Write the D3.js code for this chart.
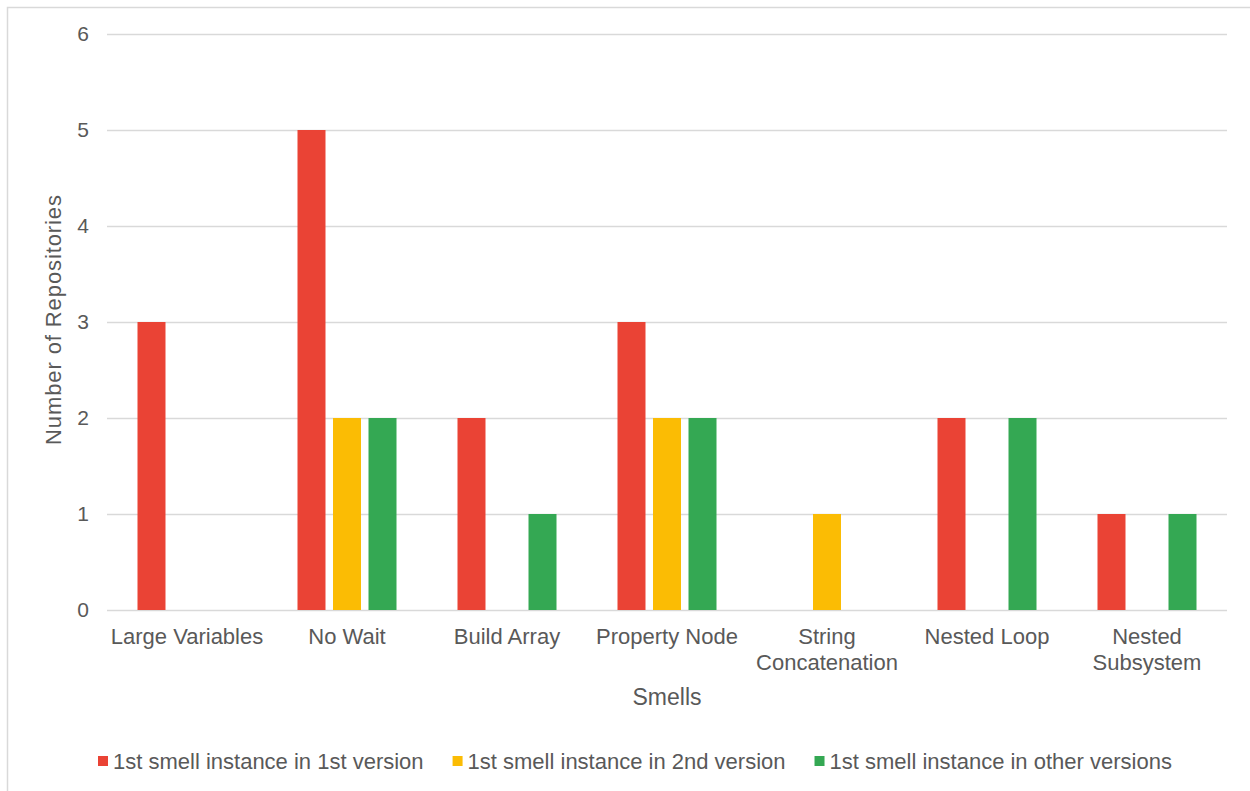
<!DOCTYPE html>
<html>
<head>
<meta charset="utf-8">
<script src="https://cdn.jsdelivr.net/npm/d3@7"></script>
<style>
  html, body { margin: 0; padding: 0; background: #fff; }
  svg { display: block; }
  text { font-family: "Liberation Sans", Arial, sans-serif; fill: #595959; }
</style>
</head>
<body>
<svg id="chart" width="1250" height="791"></svg>
<script>
const categories = ["Large Variables", "No Wait", "Build Array", "Property Node", "String Concatenation", "Nested Loop", "Nested Subsystem"];
const seriesNames = ["1st smell instance in 1st version", "1st smell instance in 2nd version", "1st smell instance in other versions"];
const firstVersion = [3, 5, 2, 3, 0, 2, 1];
const secondVersion = [0, 2, 0, 2, 1, 0, 0];
const otherVersions = [0, 2, 1, 2, 0, 2, 1];
const yTicks = [0, 1, 2, 3, 4, 5, 6];
const colors = ["#EA4335", "#FBBC04", "#34A853"];
const seriesValues = [firstVersion, secondVersion, otherVersions];

const svg = d3.select("#chart");

// chart area border
svg.append("rect")
  .attr("x", 7.5).attr("y", 7.5)
  .attr("width", 1260).attr("height", 800)
  .attr("fill", "none").attr("stroke", "#d9d9d9").attr("stroke-width", 1.5);

const x0 = d3.scaleBand().domain(categories).range([107, 1227]).padding(0);
const x1 = d3.scaleBand().domain(d3.range(3)).range([0, x0.bandwidth()])
  .paddingInner(0.2113).paddingOuter(0.859);
const y = d3.scaleLinear().domain([0, 6]).range([610, 34]);

// gridlines
const grid = svg.append("g")
  .attr("transform", "translate(107,0)")
  .call(d3.axisLeft(y).tickValues(yTicks).tickSize(-1120).tickFormat(""));
grid.select(".domain").remove();
grid.selectAll(".tick line").attr("stroke", "#d9d9d9").attr("stroke-width", 1.5);

// y tick labels
svg.append("g").selectAll("text")
  .data(yTicks).join("text")
  .attr("x", 89).attr("y", d => y(d))
  .attr("dy", "0.35em")
  .attr("text-anchor", "end")
  .attr("font-size", 21)
  .text(d => d);

// bars
const rows = categories.map((c, i) => ({ cat: c, vals: seriesValues.map(s => s[i]) }));
const groups = svg.append("g").selectAll("g")
  .data(rows).join("g")
  .attr("transform", d => `translate(${x0(d.cat)},0)`);
groups.selectAll("rect")
  .data(d => d.vals.map((v, k) => ({ v, k })))
  .join("rect")
  .attr("x", d => x1(d.k))
  .attr("width", x1.bandwidth())
  .attr("y", d => y(d.v))
  .attr("height", d => y(0) - y(d.v))
  .attr("fill", d => colors[d.k]);

// category labels with wrapping
const catG = svg.append("g");
categories.forEach(c => {
  const t = catG.append("text")
    .attr("x", x0(c) + x0.bandwidth() / 2)
    .attr("y", 644)
    .attr("text-anchor", "middle")
    .attr("font-size", 22);
  t.text(c);
  if (t.node().getComputedTextLength() > x0.bandwidth()) {
    t.text(null);
    const words = c.split(" ");
    words.forEach((w, i) => {
      t.append("tspan")
        .attr("x", x0(c) + x0.bandwidth() / 2)
        .attr("dy", i === 0 ? 0 : 26)
        .text(w);
    });
  }
});

// axis titles
svg.append("text")
  .attr("x", 667).attr("y", 705)
  .attr("text-anchor", "middle")
  .attr("font-size", 23)
  .text("Smells");

svg.append("text")
  .attr("transform", "translate(61,320) rotate(-90)")
  .attr("text-anchor", "middle")
  .attr("font-size", 22)
  .attr("textLength", 250)
  .text("Number of Repositories");

// legend
const legend = svg.append("g");
let lx = 98;
seriesNames.forEach((name, k) => {
  legend.append("rect")
    .attr("x", lx).attr("y", 756)
    .attr("width", 10).attr("height", 10)
    .attr("fill", colors[k]);
  const t = legend.append("text")
    .attr("x", lx + 15).attr("y", 769)
    .attr("font-size", 22)
    .text(name);
  lx += 15 + t.node().getComputedTextLength() + 29;
});
</script>
</body>
</html>
